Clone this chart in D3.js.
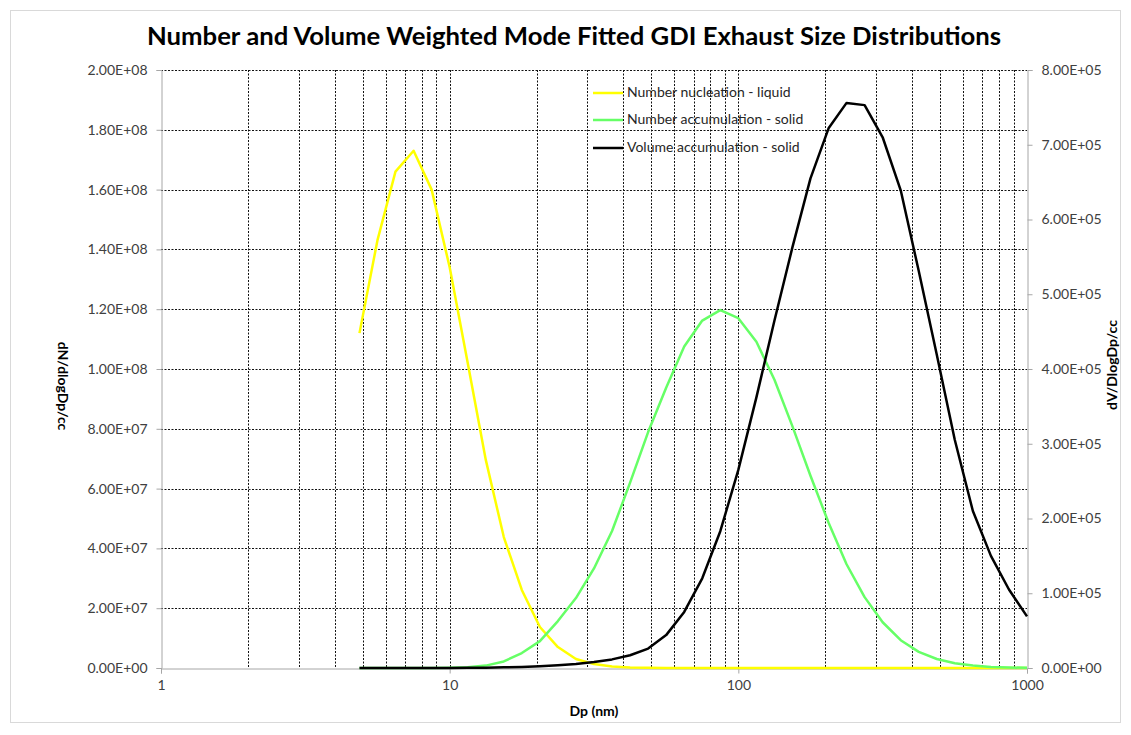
<!DOCTYPE html>
<html>
<head>
<meta charset="utf-8">
<script src="https://cdn.jsdelivr.net/npm/d3@7"></script>
<style>
  html, body { margin: 0; padding: 0; background: #fff; }
  svg { display: block; }
</style>
</head>
<body>
<svg id="chart" width="1131" height="735"></svg>
<script>
// ---- Data ----
const title = "Number and Volume Weighted Mode Fitted GDI Exhaust Size Distributions";
const dp = [4.87, 5.62, 6.49, 7.50, 8.66, 10.0, 11.55, 13.34, 15.40, 17.78,
            20.54, 23.71, 27.38, 31.62, 36.52, 42.17, 48.70, 56.23, 64.94, 74.99,
            86.60, 100.0, 115.5, 133.4, 154.0, 177.8, 205.4, 237.1, 273.8, 316.2,
            365.2, 421.7, 487.0, 562.3, 649.4, 749.9, 866.0, 1000.0];
// dN/dlogDp (x 1e6)
const numNucleation = [112, 143, 166, 173, 160, 134, 102, 69.6, 43.8, 26.1,
                       13.7, 7.0, 3.0, 1.3, 0.5, 0.18, 0.06, 0.015, 0.004, 0,
                       0, 0, 0, 0, 0, 0, 0, 0, 0, 0,
                       0, 0, 0, 0, 0, 0, 0, 0];
const numAccumulation = [0, 0, 0.001, 0.003, 0.015, 0.07, 0.25, 0.8, 2.2, 5.0,
                         9.0, 15.7, 23.4, 33.3, 45.8, 62.0, 78.9, 93.7, 107.5, 116.2,
                         119.7, 117.0, 109.1, 96.4, 80.8, 64.3, 48.6, 34.7, 23.7, 15.3,
                         9.3, 5.4, 3.0, 1.6, 0.8, 0.37, 0.17, 0.07];
// dV/dlogDp (x 1e3)
const volAccumulation = [0, 0.01, 0.02, 0.04, 0.08, 0.15, 0.28, 0.5, 0.9, 1.5,
                         2.4, 3.7, 5.5, 8.0, 11.5, 17, 26, 44, 75, 120,
                         183, 265, 362, 465, 563, 655, 722, 756, 753, 710,
                         639, 531, 419, 305, 210, 150, 105, 69];
const seriesNames = ["Number nucleation - liquid", "Number accumulation - solid", "Volume accumulation - solid"];
const seriesColors = ["#ffff00", "#66ff66", "#000000"];
const leftTicks = [0, 2e7, 4e7, 6e7, 8e7, 1e8, 1.2e8, 1.4e8, 1.6e8, 1.8e8, 2e8];
const rightTicks = [0, 1e5, 2e5, 3e5, 4e5, 5e5, 6e5, 7e5, 8e5];
const xTicks = [1, 10, 100, 1000];
const xMinorGrid = [2,3,4,5,6,7,8,9,20,30,40,50,60,70,80,90,200,300,400,500,600,700,800,900];

// ---- Layout ----
const svg = d3.select("#chart");
const L = 161, R = 1027, T = 70, B = 668;
const x = d3.scaleLog().domain([1, 1000]).range([L, R]);
const yL = d3.scaleLinear().domain([0, 2e8]).range([B, T]);
const yR = d3.scaleLinear().domain([0, 8e5]).range([B, T]);
const fmtE = v => {
  if (v === 0) return "0.00E+00";
  const e = Math.floor(Math.log10(v) + 1e-9);
  const m = v / Math.pow(10, e);
  return m.toFixed(2) + "E+" + String(e).padStart(2, "0");
};
const FONT = "Lato, 'Open Sans', sans-serif";

// outer frame
svg.append("rect").attr("x", 10.5).attr("y", 10.5).attr("width", 1110).attr("height", 712)
  .attr("fill", "#fff").attr("stroke", "#d9d9d9").attr("stroke-width", 1);

// title
svg.append("text").attr("x", 574).attr("y", 45).attr("text-anchor", "middle")
  .attr("font-family", FONT).attr("font-weight", "bold").attr("font-size", 25)
  .attr("textLength", 854).attr("lengthAdjust", "spacingAndGlyphs")
  .attr("fill", "#000").text(title);

// gridlines
const grid = svg.append("g").attr("stroke", "#111").attr("stroke-width", 1)
  .attr("stroke-dasharray", "2,1.5");
grid.selectAll("line.h").data(leftTicks.filter(d => d > 0)).join("line")
  .attr("x1", L).attr("x2", R)
  .attr("y1", d => Math.round(yL(d)) + 0.5).attr("y2", d => Math.round(yL(d)) + 0.5);
grid.selectAll("line.v").data(xMinorGrid.concat([10, 100])).join("line")
  .attr("y1", T).attr("y2", B)
  .attr("x1", d => Math.round(x(d)) + 0.5).attr("x2", d => Math.round(x(d)) + 0.5);

// axes
const axisColor = "#a6a6a6";
const labelColor = "#404040";
function styleAxis(g) {
  g.select(".domain").attr("stroke", axisColor);
  g.selectAll(".tick line").attr("stroke", axisColor);
  g.selectAll(".tick text").attr("fill", labelColor).attr("font-family", FONT).attr("font-size", 14);
}
svg.append("g").attr("transform", `translate(${L + 0.5},0)`)
  .call(d3.axisLeft(yL).tickValues(leftTicks).tickFormat(fmtE).tickSizeOuter(0).tickSize(5).tickPadding(9))
  .call(styleAxis);
svg.append("g").attr("transform", `translate(${R + 0.5},0)`)
  .call(d3.axisRight(yR).tickValues(rightTicks).tickFormat(fmtE).tickSizeOuter(0).tickSize(5).tickPadding(9))
  .call(styleAxis);
svg.append("g").attr("transform", `translate(0,${B + 0.5})`)
  .call(d3.axisBottom(x).tickValues(xTicks).tickFormat(d3.format("d")).tickSizeOuter(0).tickSize(5).tickPadding(7))
  .call(styleAxis);

// axis titles
svg.append("text").attr("transform", "translate(62,386) rotate(90)").attr("text-anchor", "middle")
  .attr("dominant-baseline", "middle")
  .attr("font-family", FONT).attr("font-weight", "bold").attr("font-size", 14).text("dN/dlogDp/cc");
svg.append("text").attr("transform", "translate(1113,365) rotate(-90)").attr("text-anchor", "middle")
  .attr("dominant-baseline", "middle")
  .attr("font-family", FONT).attr("font-weight", "bold").attr("font-size", 14).text("dV/DlogDp/cc");
svg.append("text").attr("x", 594).attr("y", 716).attr("text-anchor", "middle")
  .attr("font-family", FONT).attr("font-weight", "bold").attr("font-size", 14).text("Dp (nm)");

// series
const lineL = d3.line().x((d, i) => x(dp[i])).y(d => yL(d * 1e6));
const lineR = d3.line().x((d, i) => x(dp[i])).y(d => yR(d * 1e3));
const plot = svg.append("g").attr("fill", "none").attr("stroke-width", 2.5).attr("stroke-linejoin", "round");
plot.append("path").datum(numNucleation).attr("d", lineL).attr("stroke", seriesColors[0]);
plot.append("path").datum(numAccumulation).attr("d", lineL).attr("stroke", seriesColors[1]);
plot.append("path").datum(volAccumulation).attr("d", lineR).attr("stroke", seriesColors[2]);

// legend
const leg = svg.append("g");
const legY = [93, 120, 148];
seriesNames.forEach((name, i) => {
  leg.append("line").attr("x1", 593).attr("x2", 623).attr("y1", legY[i]).attr("y2", legY[i])
    .attr("stroke", seriesColors[i]).attr("stroke-width", 2.5);
  leg.append("text").attr("x", 627).attr("y", legY[i]).attr("dominant-baseline", "middle")
    .attr("font-family", FONT).attr("font-size", 14).attr("fill", "#262626").text(name);
});
</script>
</body>
</html>
